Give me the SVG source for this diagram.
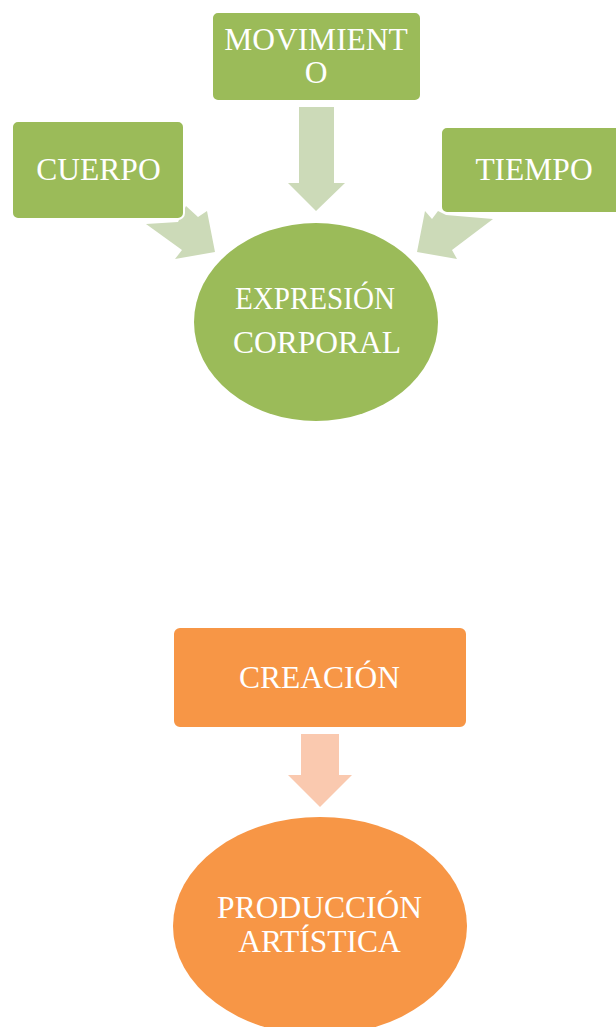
<svg xmlns="http://www.w3.org/2000/svg" width="616" height="1027" viewBox="0 0 616 1027">
  <style>
    .gbox { fill: #9BBB59; stroke: #FFFFFF; stroke-width: 2; }
    .obox { fill: #F79646; stroke: #FFFFFF; stroke-width: 2; }
    .garrow { fill: #CCDAB8; }
    .oarrow { fill: #FAC9AF; }
    .lbl { font-family: "Liberation Serif", "Times New Roman", serif; font-size: 31.5px; fill: #FFFFFF; text-anchor: middle; }
  </style>
  <rect width="616" height="1027" fill="#FFFFFF"/>
  <g id="connectors">
    <polygon class="garrow" points="299,107 334,107 334,183 345,183 316,211 288,183 299,183"/>
    <polygon class="garrow" points="146,224 182,250 175,259 215,252 207,211 198,217 186,206 178,222"/>
    <polygon class="garrow" points="493,219 452,250 457,259 417,252 425,211 432,219 438,211 446,215"/>
    <polygon class="oarrow" points="301,734 339,734 339,775 352,775 320,807 288,775 301,775"/>
  </g>
  <g id="movimiento">
    <rect class="gbox" x="212" y="12" width="209" height="89" rx="6"/>
    <text class="lbl" x="316" y="50">MOVIMIENT</text>
    <text class="lbl" x="316" y="83">O</text>
  </g>
  <g id="cuerpo">
    <rect class="gbox" x="12" y="121" width="172" height="98" rx="6"/>
    <text class="lbl" x="98.5" y="180">CUERPO</text>
  </g>
  <g id="tiempo">
    <rect class="gbox" x="441" y="127" width="190" height="86" rx="6"/>
    <text class="lbl" x="534" y="180">TIEMPO</text>
  </g>
  <g id="expresion">
    <ellipse cx="316" cy="322" rx="122" ry="99" fill="#9BBB59"/>
    <text class="lbl" x="315" y="309" textLength="160" lengthAdjust="spacingAndGlyphs">EXPRESIÓN</text>
    <text class="lbl" x="317" y="353">CORPORAL</text>
  </g>
  <g id="creacion">
    <rect class="obox" x="173" y="627" width="294" height="101" rx="7"/>
    <text class="lbl" x="319.5" y="688">CREACIÓN</text>
  </g>
  <g id="produccion">
    <ellipse cx="320" cy="926" rx="147" ry="109" fill="#F79646"/>
    <text class="lbl" x="319.5" y="918">PRODUCCIÓN</text>
    <text class="lbl" x="319.5" y="952">ARTÍSTICA</text>
  </g>
</svg>
